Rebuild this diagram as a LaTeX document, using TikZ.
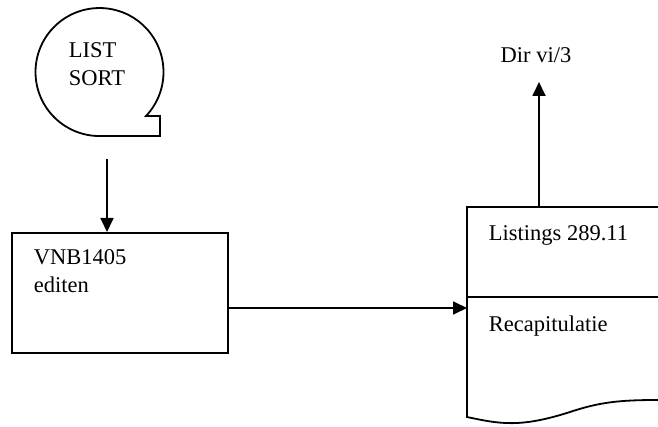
\documentclass[tikz,border=0pt]{standalone}
\usepackage{fontspec}
\setmainfont{Liberation Serif}
\usetikzlibrary{arrows.meta}
\begin{document}
\begin{tikzpicture}[x=1pt, y=-1pt, line width=1.8pt, >={Triangle[length=14pt,width=13pt]},
    label/.style={inner sep=0pt, anchor=north west, align=left,
        font=\fontsize{22.5}{27.5}\selectfont}]
    \useasboundingbox (0,0) rectangle (658,427);
    % tape
    \draw (146,116) arc[start angle=43.4, end angle=-270, radius=64] -- (160,136) -- (160,116) -- cycle;
    \node[label] (sort) at (68,42) {LIST\\SORT};
    \coordinate (tapeout) at (107,159);
    % program
    \node[draw, minimum width=216pt, minimum height=120pt, anchor=north west] (edit) at (11,232) {};
    \node[label] (edittext) at (33,249) {VNB1405\\editen};
    % document
    \draw (658,207) -- (467,207) -- (467,417) .. controls (500,424) and (520,428) .. (570,412)
        .. controls (600,402) and (620,400) .. (658,400);
    \draw (467,297) -- (658,297);
    \coordinate (doctop) at (539,207);
    \coordinate (docin) at (467,308);
    \node[label] (list) at (488,225) {Listings 289.11};
    \node[label] (recap) at (488,315) {Recapitulatie};
    \node[label, anchor=north] (dir) at (536,47) {Dir vi/3};
    \coordinate (dirin) at (539,82);
    % flow
    \draw[->] (tapeout) -- (tapeout |- edit.north);
    \draw[->] (edit.east |- docin) -- (docin);
    \draw[->] (doctop) -- (dirin);
\end{tikzpicture}
\end{document}
